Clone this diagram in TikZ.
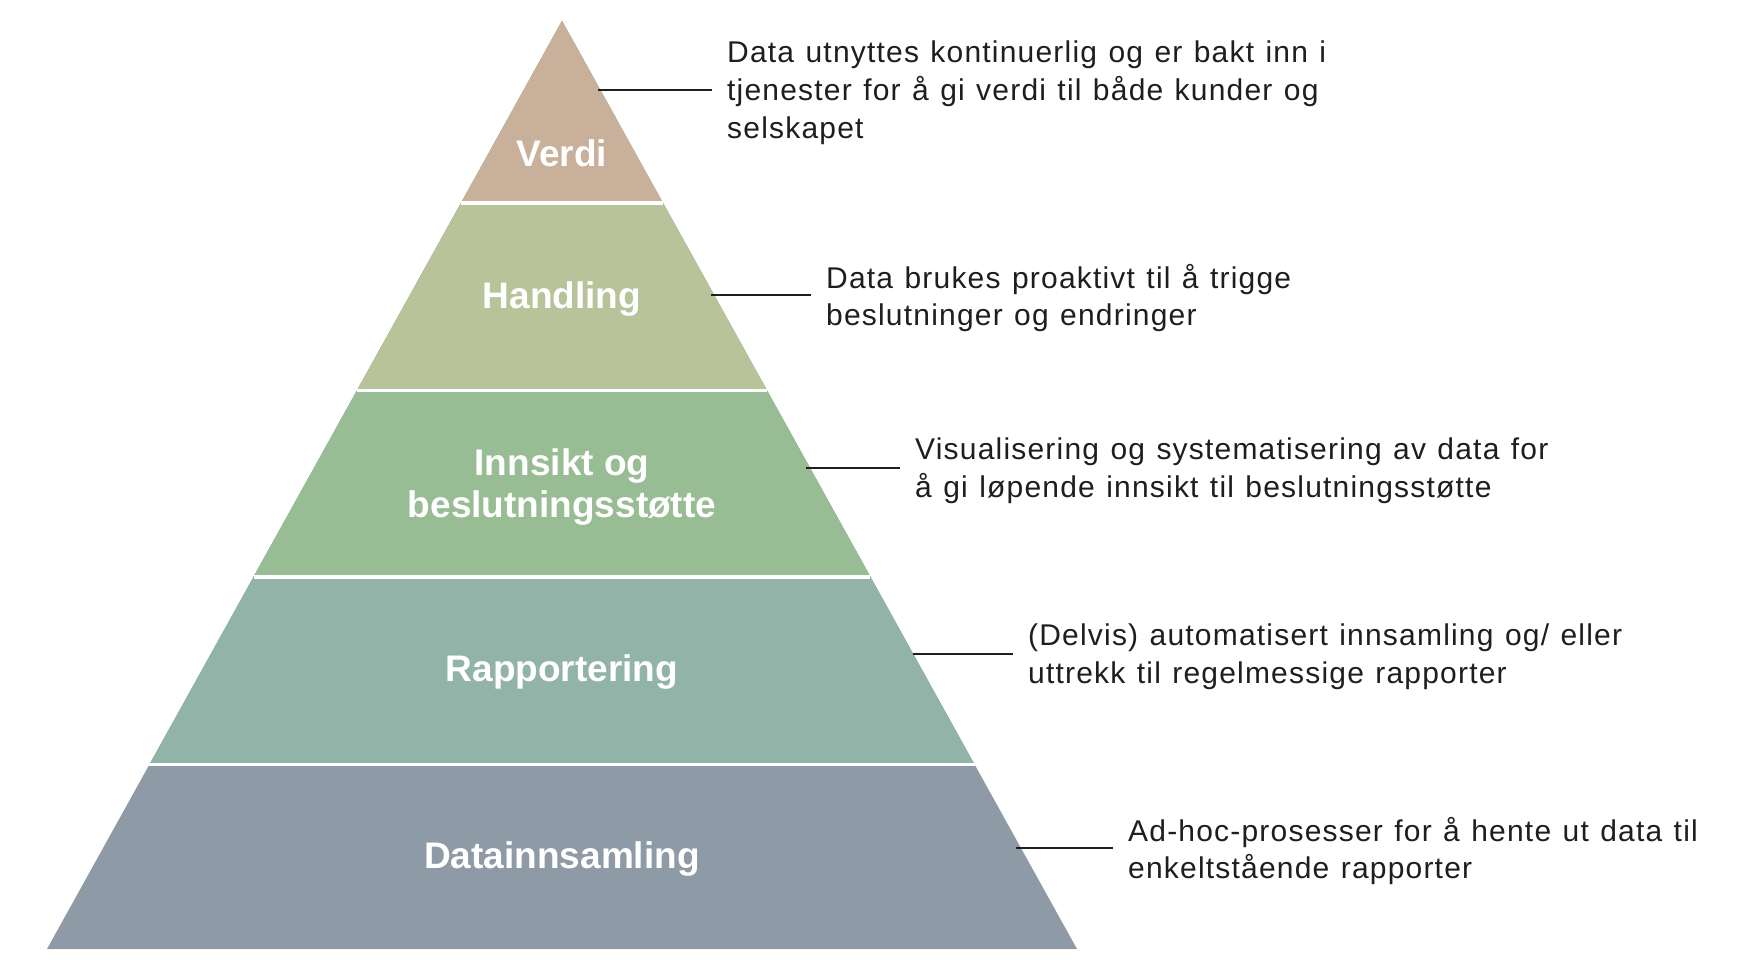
\documentclass[tikz,border=0pt]{standalone}
\usepackage{fontspec}
\setmainfont{Liberation Sans}
\newfontfamily\descfont[LetterSpace=4,WordSpace=1.2]{Liberation Sans}
\usepackage{tikz}
\usetikzlibrary{positioning,calc}
\usepackage{xcolor}
\definecolor{verdicol}{HTML}{C9B09B}
\definecolor{handcol}{HTML}{B9C399}
\definecolor{innscol}{HTML}{98BC94}
\definecolor{rappcol}{HTML}{92B3A8}
\definecolor{datacol}{HTML}{8F9AA7}
\definecolor{ink}{HTML}{1E1E1E}
\tikzset{
  level/.style={white, yshift=-3.5pt, font=\fontsize{37}{42}\selectfont\bfseries, align=center},
  desc/.style={ink, anchor=west, yshift=-3pt, inner xsep=15pt, inner ysep=0pt, align=left, font=\descfont\fontsize{30}{37.8}\selectfont},
  tick/.style={ink, line width=2.6pt}
}

\begin{document}
\begin{tikzpicture}[x=1pt, y=-1pt]
        \useasboundingbox (0,0) rectangle (1743,978);
        \coordinate (apex) at (562,21);
        \coordinate (bl) at (47,949);
        \coordinate (br) at (1077,949);
        % nested triangles, bottom colour first
        \foreach \t/\col in {1/datacol, 0.801/rappcol, 0.599/innscol, 0.398/handcol, 0.196/verdicol}
          \fill[\col] (apex) -- ($(apex)!\t!(bl)$) -- ($(apex)!\t!(br)$) -- cycle;
        \foreach \t in {0.196, 0.398, 0.599, 0.801}
          \draw[white, line width=3.4pt] ($(apex)!\t!(bl)$) -- ($(apex)!\t!(br)$);

        \node[level] (verdi) at (562,150) {Verdi};
        \node[level] (handling) at (562,296) {Handling};
        \node[level] (innsikt) at (562,484) {Innsikt og\\beslutningsstøtte};
        \node[level] (rapport) at (562,669) {Rapportering};
        \node[level] (datainn) at (562,856) {Datainnsamling};

        \node[desc] (verdidesc) at (712,90) {Data utnyttes kontinuerlig og er bakt inn i\\tjenester for å gi verdi til både kunder og\\selskapet};
        \node[desc] (handdesc) at (811,295) {Data brukes proaktivt til å trigge\\beslutninger og endringer};
        \node[desc] (innsdesc) at (900,468) {Visualisering og systematisering av data for\\å gi løpende innsikt til beslutningsstøtte};
        \node[desc] (rappdesc) at (1013,654) {(Delvis) automatisert innsamling og/ eller\\uttrekk til regelmessige rapporter};
        \node[desc] (datadesc) at (1113,848) {Ad-hoc-prosesser for å hente ut data til\\enkeltstående rapporter};

        \coordinate (verdiedge) at (598,90);
        \coordinate (handedge) at (711,295);
        \coordinate (innsedge) at (806,468);
        \coordinate (rappedge) at (913,654);
        \coordinate (dataedge) at (1016,848);
        \draw[tick] (verdiedge) -- (verdiedge -| verdidesc.west);
        \draw[tick] (handedge) -- (handedge -| handdesc.west);
        \draw[tick] (innsedge) -- (innsedge -| innsdesc.west);
        \draw[tick] (rappedge) -- (rappedge -| rappdesc.west);
        \draw[tick] (dataedge) -- (dataedge -| datadesc.west);
      \end{tikzpicture}
\end{document}
